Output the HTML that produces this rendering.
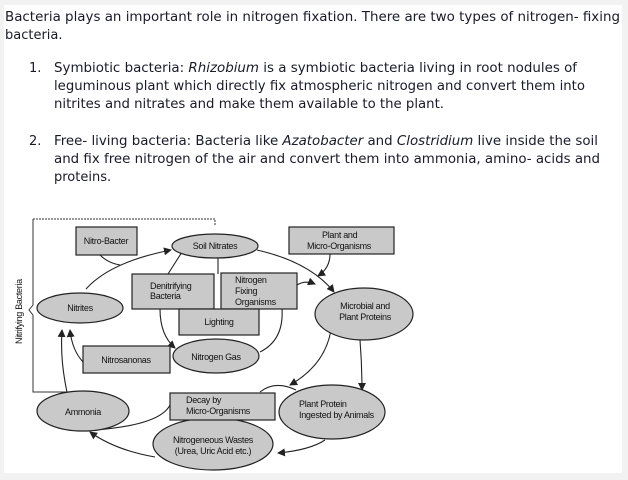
<!DOCTYPE html>
<html><head><meta charset="utf-8"><style>
html,body{margin:0;padding:0;background:#f2f2f2;}
svg{display:block;}
.t{font-family:"DejaVu Sans","Liberation Sans",sans-serif;font-size:13px;fill:#1a1a2a;}
.d{font-family:"Liberation Sans",sans-serif;font-size:9px;fill:#111;letter-spacing:-0.3px;}
.s{fill:#c9c9c9;stroke:#222;stroke-width:1.2;}
.l{fill:none;stroke:#222;stroke-width:1.1;}
</style></head><body>
<svg width="628" height="480" viewBox="0 0 628 480" xmlns="http://www.w3.org/2000/svg">
<defs><marker id="a" markerWidth="8" markerHeight="8" refX="7" refY="4" orient="auto" markerUnits="userSpaceOnUse"><path d="M0,0 L8,4 L0,8 Z" fill="#222"/></marker></defs>
<rect x="0" y="0" width="628" height="480" fill="#f2f2f2"/>
<rect x="4" y="5" width="618" height="468" fill="#fff"/>
<text class="t" x="5" y="21" textLength="615" lengthAdjust="spacingAndGlyphs">Bacteria plays an important role in nitrogen fixation. There are two types of nitrogen- fixing</text>
<text class="t" x="5" y="39">bacteria.</text>
<text class="t" x="29" y="72">1.</text>
<text class="t" x="54" y="72" textLength="523" lengthAdjust="spacingAndGlyphs">Symbiotic bacteria: <tspan font-style="italic">Rhizobium</tspan> is a symbiotic bacteria living in root nodules of</text>
<text class="t" x="54" y="90" textLength="531" lengthAdjust="spacingAndGlyphs">leguminous plant which directly fix atmospheric nitrogen and convert them into</text>
<text class="t" x="54" y="108" textLength="390" lengthAdjust="spacingAndGlyphs">nitrites and nitrates and make them available to the plant.</text>
<text class="t" x="29" y="145">2.</text>
<text class="t" x="54" y="145" textLength="544" lengthAdjust="spacingAndGlyphs">Free- living bacteria: Bacteria like <tspan font-style="italic">Azatobacter</tspan> and <tspan font-style="italic">Clostridium</tspan> live inside the soil</text>
<text class="t" x="54" y="163" textLength="546" lengthAdjust="spacingAndGlyphs">and fix free nitrogen of the air and convert them into ammonia, amino- acids and</text>
<text class="t" x="54" y="181">proteins.</text>

<path d="M33,219 L215,219 L215,226" fill="none" stroke="#333" stroke-width="1" stroke-dasharray="2,1"/>
<path d="M33,219 L33,305 L29,310 L33,315 L33,392 L67,392" fill="none" stroke="#333" stroke-width="1"/>
<text class="d" transform="translate(22,344) rotate(-90)">Nitrifying Bacteria</text>

<path class="l" d="M86,289 Q110,262 171,250" marker-end="url(#a)"/>
<path class="l" d="M100,255 Q108,263 120,265"/>
<path class="l" d="M257,250 Q310,262 334,292" marker-end="url(#a)"/>
<path class="l" d="M330,254 Q330,268 318,276" marker-end="url(#a)"/>
<path class="l" d="M297,285 Q305,280 315,284" marker-end="url(#a)"/>
<path class="l" d="M182,252 L168,274"/>
<path class="l" d="M218,257 L218,274"/>
<path class="l" d="M160,309 Q160,335 175,348" marker-end="url(#a)"/>
<path class="l" d="M260,352 Q284,340 282,309"/>
<path class="l" d="M331,330 Q325,365 290,385" marker-end="url(#a)"/>
<path class="l" d="M360,340 Q362,365 362,390" marker-end="url(#a)"/>
<path class="l" d="M260,392 Q275,380 296,390"/>
<path class="l" d="M325,440 Q310,450 278,453" marker-end="url(#a)"/>
<path class="l" d="M155,457 Q115,450 90,432" marker-end="url(#a)"/>
<path class="l" d="M170,405 Q160,425 95,430"/>
<path class="l" d="M67,392 Q60,360 62,330" marker-end="url(#a)"/>
<path class="l" d="M83,362 Q72,350 70,330" marker-end="url(#a)"/>

<rect class="s" x="76" y="227" width="61" height="28"/>
<text class="d" x="106" y="244" text-anchor="middle">Nitro-Bacter</text>
<ellipse class="s" cx="215" cy="246" rx="43" ry="12"/>
<text class="d" x="215" y="249" text-anchor="middle">Soil Nitrates</text>
<rect class="s" x="289" y="227" width="105" height="27"/>
<text class="d" x="322" y="238">Plant and</text>
<text class="d" x="307" y="249">Micro-Organisms</text>
<rect class="s" x="132" y="274" width="82" height="35"/>
<text class="d" x="150" y="289">Denitrifying</text>
<text class="d" x="150" y="299">Bacteria</text>
<rect class="s" x="221" y="273" width="76" height="36"/>
<text class="d" x="235" y="283">Nitrogen</text>
<text class="d" x="235" y="294">Fixing</text>
<text class="d" x="235" y="305">Organisms</text>
<rect class="s" x="179" y="309" width="80" height="26"/>
<text class="d" x="219" y="325" text-anchor="middle">Lighting</text>
<ellipse class="s" cx="80" cy="308" rx="43" ry="15"/>
<text class="d" x="80" y="311" text-anchor="middle">Nitrites</text>
<ellipse class="s" cx="364" cy="314" rx="49" ry="26"/>
<text class="d" x="365" y="309" text-anchor="middle">Microbial and</text>
<text class="d" x="365" y="320" text-anchor="middle">Plant Proteins</text>
<ellipse class="s" cx="216" cy="356" rx="43" ry="17"/>
<text class="d" x="216" y="360" text-anchor="middle">Nitrogen Gas</text>
<rect class="s" x="83" y="346" width="87" height="27"/>
<text class="d" x="126" y="363" text-anchor="middle">Nitrosanonas</text>
<ellipse class="s" cx="83" cy="411" rx="46" ry="20"/>
<text class="d" x="83" y="415" text-anchor="middle">Ammonia</text>
<ellipse class="s" cx="213" cy="444" rx="60" ry="26"/>
<text class="d" x="213" y="443" text-anchor="middle">Nitrogeneous Wastes</text>
<text class="d" x="213" y="454" text-anchor="middle">(Urea, Uric Acid etc.)</text>
<rect class="s" x="170" y="393" width="105" height="27"/>
<text class="d" x="186" y="403">Decay by</text>
<text class="d" x="186" y="414">Micro-Organisms</text>
<ellipse class="s" cx="332" cy="412" rx="53" ry="27"/>
<text class="d" x="299" y="407">Plant Protein</text>
<text class="d" x="299" y="418">Ingested by Animals</text>
</svg>
</body></html>
